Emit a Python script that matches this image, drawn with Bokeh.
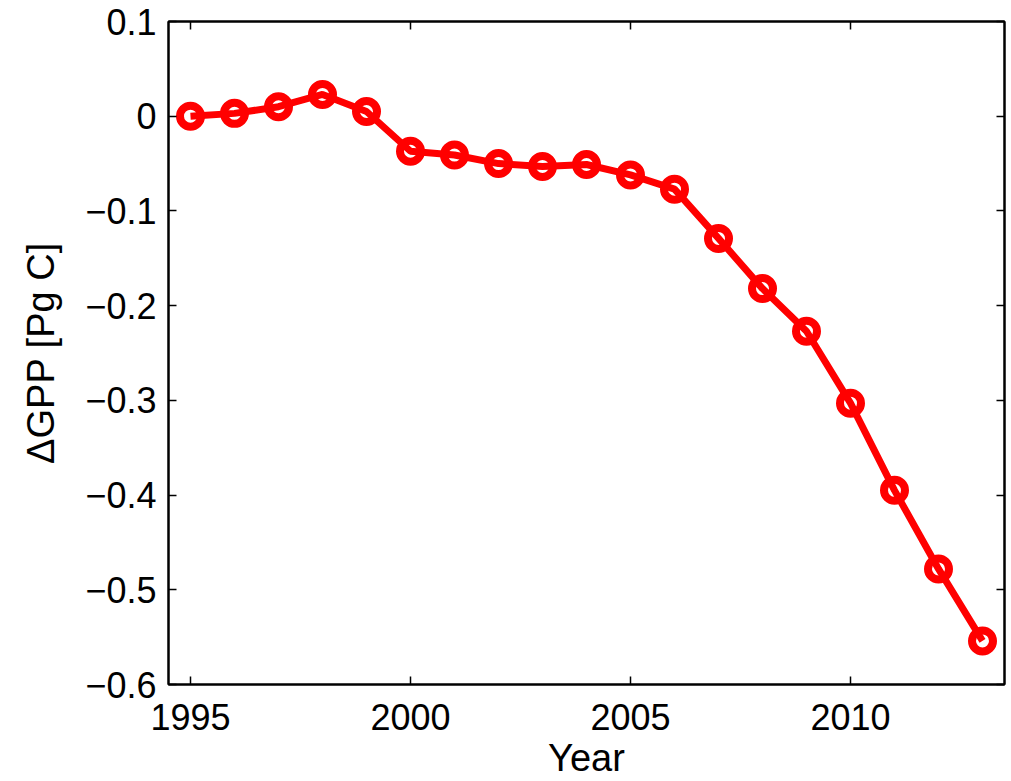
from bokeh.plotting import figure
from bokeh.models import LinearAxis, FixedTicker, CustomJSTickFormatter, Range1d
from bokeh.embed import file_html
from bokeh.resources import INLINE

years = [1995, 1996, 1997, 1998, 1999, 2000, 2001, 2002, 2003, 2004,
         2005, 2006, 2007, 2008, 2009, 2010, 2011, 2012, 2013]
dgpp = [0.0, 0.003, 0.010, 0.023, 0.005, -0.037, -0.041, -0.050, -0.053, -0.051,
        -0.062, -0.077, -0.129, -0.182, -0.227, -0.303, -0.395, -0.478, -0.554]
x_ticks = [1995, 2000, 2005, 2010]
y_ticks = [-0.6, -0.5, -0.4, -0.3, -0.2, -0.1, 0.0, 0.1]

FONT = "Liberation Sans"

p = figure(width=1011, height=781, output_backend="svg", toolbar_location=None,
           x_range=Range1d(1994.5, 2013.5), y_range=Range1d(-0.6, 0.1),
           min_border_left=168, min_border_right=7, min_border_top=21, min_border_bottom=97,
           x_axis_label="Year", y_axis_label="ΔGPP [Pg C]")
p.grid.visible = False
p.background_fill_color = "white"
p.border_fill_color = "white"
p.outline_line_color = "black"
p.outline_line_width = 2

fmt = CustomJSTickFormatter(code="""
if (Math.abs(tick) < 1e-9) return '0';
if (Number.isInteger(tick) && Math.abs(tick) > 100) return String(tick);
return tick.toFixed(1).replace('-', '\\u2212');
""")

for ax in p.xaxis:
    ax.ticker = FixedTicker(ticks=x_ticks)
for ax in p.yaxis:
    ax.ticker = FixedTicker(ticks=y_ticks)
    ax.formatter = fmt

for ax in list(p.xaxis) + list(p.yaxis):
    ax.major_tick_in = 8
    ax.major_tick_out = 0
    ax.minor_tick_line_color = None
    ax.axis_line_width = 2
    ax.major_tick_line_width = 1.5
    ax.major_label_text_font = FONT
    ax.major_label_text_font_size = "36px"
    ax.major_label_text_color = "black"
    ax.axis_label_text_font = FONT
    ax.axis_label_text_font_size = "38px"
    ax.axis_label_text_font_style = "normal"
    ax.axis_label_text_color = "black"

p.xaxis.major_label_standoff = 19
p.xaxis.axis_label_standoff = 4
p.yaxis.major_label_standoff = 12
p.yaxis.axis_label_standoff = 20

# mirrored axes (box ticks)
top = LinearAxis(ticker=FixedTicker(ticks=x_ticks), major_label_text_font_size="0px",
                 major_tick_in=8, major_tick_out=0, minor_tick_line_color=None,
                 axis_line_width=2, major_tick_line_width=1.5, major_label_standoff=0)
top.major_label_text_color = None
right = LinearAxis(ticker=FixedTicker(ticks=y_ticks), major_label_text_font_size="0px",
                   major_tick_in=8, major_tick_out=0, minor_tick_line_color=None,
                   axis_line_width=2, major_tick_line_width=1.5, major_label_standoff=0)
right.major_label_text_color = None
p.add_layout(top, "above")
p.add_layout(right, "right")

p.line(years, dgpp, line_color="#FF0000", line_width=7)
p.scatter(years, dgpp, marker="circle", size=21, fill_color=None,
          line_color="#FF0000", line_width=8)

open("out.html", "w").write(file_html(p, INLINE))
